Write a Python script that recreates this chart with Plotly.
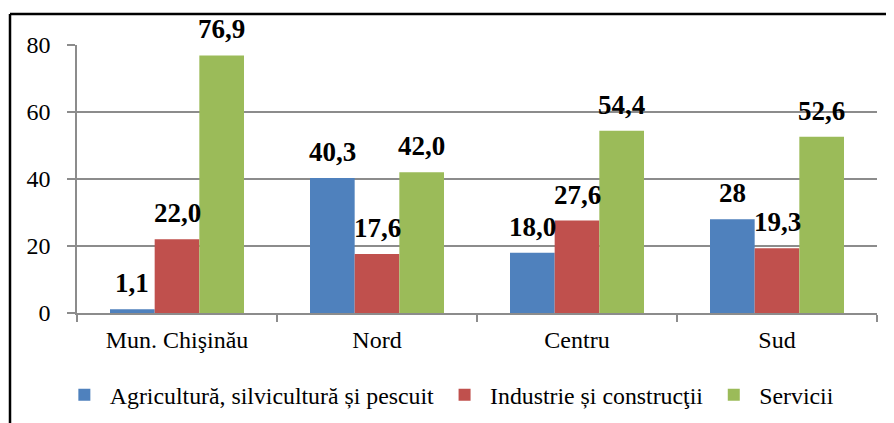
import plotly.graph_objects as go

regions = ["Mun. Chişinău", "Nord", "Centru", "Sud"]
series_names = ["Agricultură, silvicultură și pescuit", "Industrie și construcţii", "Servicii"]
agri = [1.1, 40.3, 18.0, 28.0]
indu = [22.0, 17.6, 27.6, 19.3]
serv = [76.9, 42.0, 54.4, 52.6]
agri_lbl = ["1,1", "40,3", "18,0", "28"]
indu_lbl = ["22,0", "17,6", "27,6", "19,3"]
serv_lbl = ["76,9", "42,0", "54,4", "52,6"]
y_ticks = [0, 20, 40, 60, 80]

colors = ["#4F81BD", "#C0504D", "#9BBB59"]
FONT = "Liberation Serif"

# page body has an 8px margin, so the figure is 8px smaller than the window
W, H = 886, 415
L, R, T, B = 69, 17, 37, 110
plot_w = W - L - R
bargap = 0.33
bar_px = plot_w / len(regions) * (1 - bargap) / 3

fig = go.Figure()
annotations = []
for i, (name, vals, lbls, col) in enumerate(zip(series_names, [agri, indu, serv],
                                              [agri_lbl, indu_lbl, serv_lbl], colors)):
    fig.add_trace(go.Bar(
        x=regions, y=vals, name=name, marker_color=col, marker_line_width=0,
    ))
    for reg, v, t in zip(regions, vals, lbls):
        annotations.append(dict(
            x=reg, y=v, xref="x", yref="y", text=t, showarrow=False,
            xanchor="center", yanchor="bottom", xshift=(i - 1) * bar_px, yshift=9,
            font=dict(family=FONT, size=27, color="black", weight="bold"),
        ))

fig.update_layout(
    width=W, height=H,
    margin=dict(l=L, r=R, t=T, b=B, autoexpand=False),
    paper_bgcolor="white", plot_bgcolor="white",
    barmode="group", bargap=bargap, bargroupgap=0,
    font=dict(family=FONT, size=24, color="black"),
    legend=dict(orientation="h", xref="container", yref="container",
                x=0.0574, xanchor="left", y=0.068, yanchor="middle", itemwidth=41,
                font=dict(family=FONT, size=23.8, color="black"),
                itemclick=False, traceorder="normal"),
    xaxis=dict(showline=True, linecolor="#8c8c8c", linewidth=1.5,
               ticks="outside", tickson="boundaries", ticklen=7, tickcolor="#8c8c8c",
               tickwidth=1.5, ticklabelstandoff=4, automargin=False,
               tickfont=dict(family=FONT, size=24, color="black")),
    yaxis=dict(range=[0, 80], tickvals=y_ticks, showline=True, linecolor="#8c8c8c",
               linewidth=1.5, ticks="outside", ticklen=8, tickcolor="#8c8c8c", tickwidth=1.5,
               showgrid=True, gridcolor="#8c8c8c", gridwidth=1.5, zeroline=False,
               ticklabelstandoff=12, automargin=False,
               tickfont=dict(family=FONT, size=24, color="black")),
    annotations=annotations,
    shapes=[
        dict(type="line", xref="paper", yref="paper", x0=-0.08375, x1=-0.08375,
             y0=-1.5, y1=1.1157, line=dict(color="black", width=2.5)),
        dict(type="line", xref="paper", yref="paper", x0=-0.08375, x1=1.1,
             y0=1.1157, y1=1.1157, line=dict(color="black", width=2.5)),
    ],
)

fig.write_html("out.html")
